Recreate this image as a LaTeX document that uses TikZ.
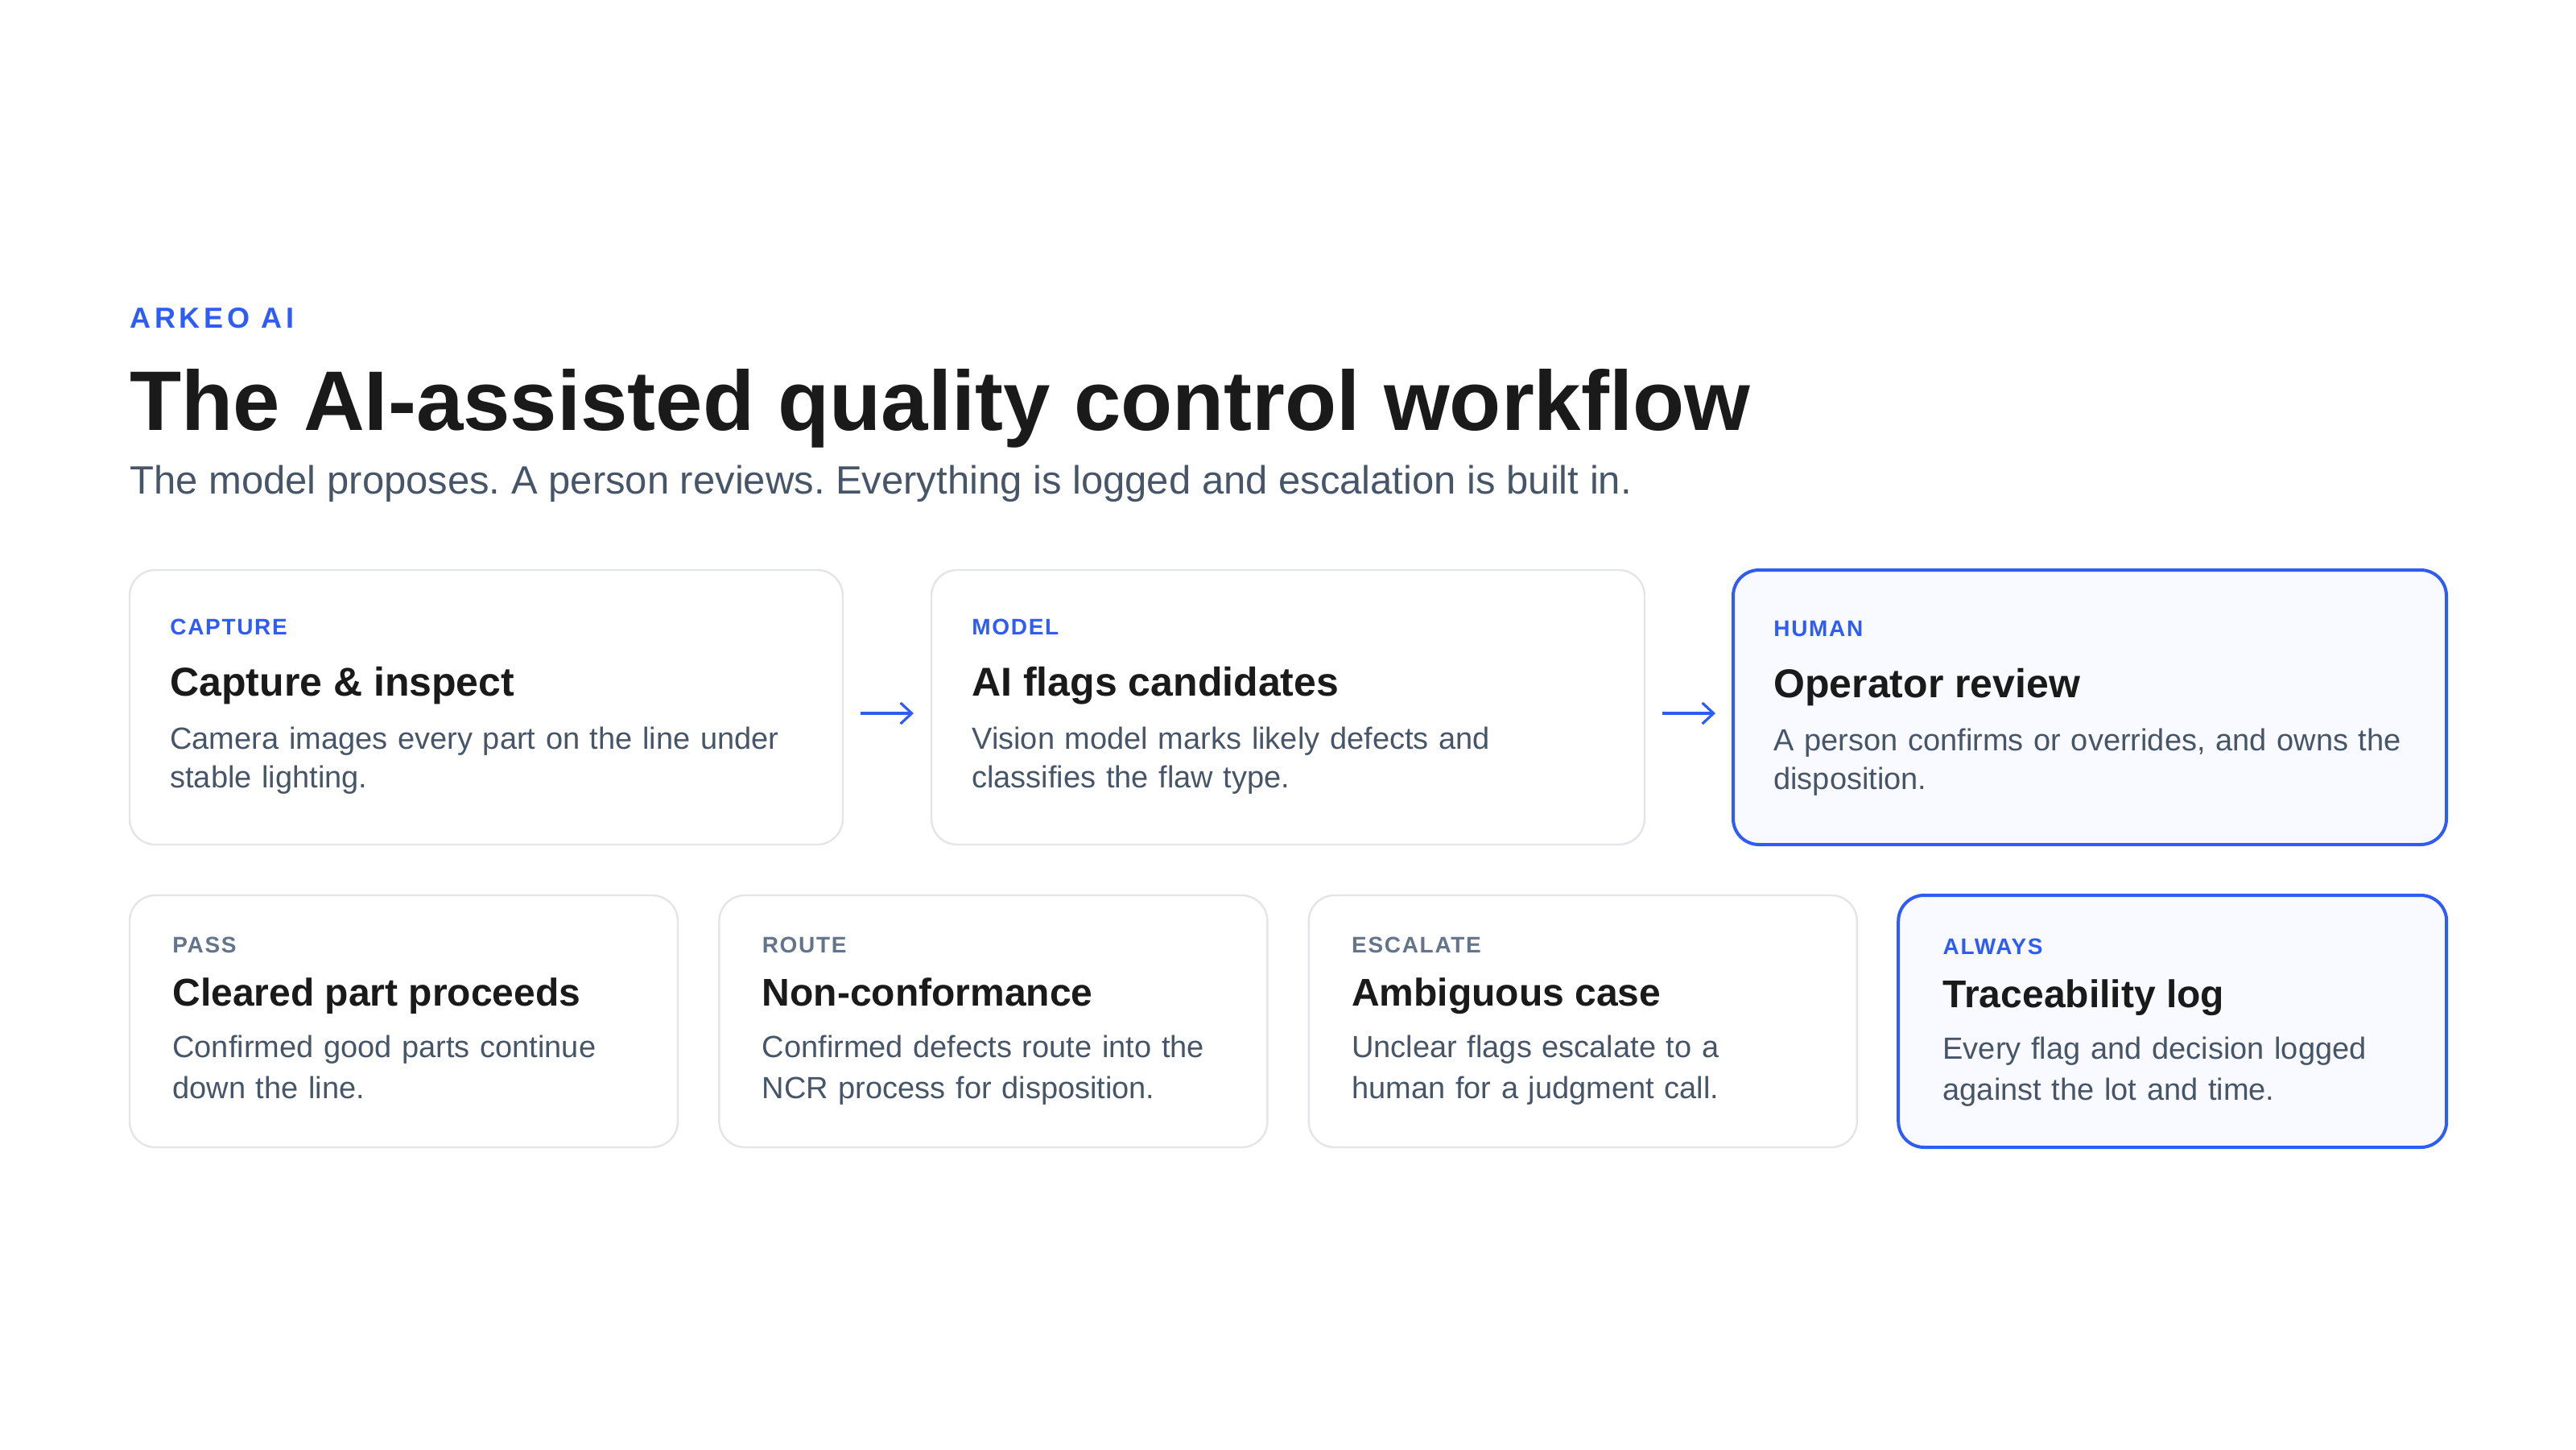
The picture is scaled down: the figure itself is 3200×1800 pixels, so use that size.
\documentclass[tikz,border=0pt]{standalone}
\usepackage{fontspec}
\setmainfont{Liberation Sans}
\usetikzlibrary{positioning,arrows.meta}
\frenchspacing

\definecolor{brandblue}{HTML}{2F5CF5}
\definecolor{inkdark}{HTML}{1A1A1A}
\definecolor{inkbody}{HTML}{475569}
\definecolor{inkmuted}{HTML}{64748B}
\definecolor{cardline}{HTML}{E3E5EA}
\definecolor{hotfill}{HTML}{F8FAFF}

\begin{document}
\begin{tikzpicture}[x=0.5pt,y=0.5pt,
    card/.style={draw=cardline,line width=1.2pt,rounded corners=16pt,fill=white,
        anchor=north west,inner sep=0pt,outer sep=0pt},
    hot card/.style={card,draw=brandblue,line width=2pt,fill=hotfill},
    wide card/.style={minimum width=443pt,minimum height=170.5pt},
    small card/.style={minimum width=340.5pt,minimum height=156.5pt},
    tag/.style={anchor=base west,inner sep=0pt,text=brandblue,
        font=\fontsize{14}{14}\selectfont\bfseries\addfontfeatures{LetterSpace=6}},
    muted tag/.style={tag,text=inkmuted},
    head/.style={anchor=base west,inner sep=0pt,text=inkdark,
        font=\fontsize{25}{30}\selectfont\bfseries},
    small head/.style={head,font=\fontsize{24}{30}\selectfont\bfseries},
    body/.style={anchor=base west,inner sep=0pt,text=inkbody,text width=420pt,align=left,
        font=\fontsize{19}{24}\selectfont},
    small body/.style={body,font=\fontsize{19}{25.5}\selectfont},
    flow/.style={draw=brandblue,line width=1.6pt,-{Straight Barb[length=7pt,width=13pt]},
        shorten <=11pt,shorten >=11pt}]

    \useasboundingbox (0,0) rectangle (3200,-1800);

    % Heading
    \node[anchor=base west,inner sep=0pt,text=brandblue,
        font=\fontsize{18}{18}\selectfont\bfseries\addfontfeatures{LetterSpace=13}] (brand) at (161,-407) {ARKEO AI};
    \node[anchor=base west,inner sep=0pt,text=inkdark,
        font=\fontsize{52.5}{60}\selectfont\bfseries] (title) at (161,-534) {The AI-assisted quality control workflow};
    \node[anchor=base west,inner sep=0pt,text=inkbody,
        font=\fontsize{24.5}{30}\selectfont] (sub) at (161,-613) {The model proposes. A person reviews. Everything is logged and escalation is built in.};

    % First row
    \node[card,wide card] (cap) at (161,-708) {};
    \node[card,wide card,right=55pt of cap] (mod) {};
    \node[hot card,wide card,right=55pt of mod] (hum) {};

    \node[tag] (capT) at ([shift={(50,-80)}]cap.north west) {CAPTURE};
    \node[head] (capH) at ([shift={(50,-156)}]cap.north west) {Capture \& inspect};
    \node[body] (capB) at ([shift={(50,-222)}]cap.north west) {Camera images every part on the line under\\stable lighting.};

    \node[tag] (modT) at ([shift={(50,-80)}]mod.north west) {MODEL};
    \node[head] (modH) at ([shift={(50,-156)}]mod.north west) {AI flags candidates};
    \node[body] (modB) at ([shift={(50,-222)}]mod.north west) {Vision model marks likely defects and\\classifies the flaw type.};

    \node[tag] (humT) at ([shift={(50,-82)}]hum.north west) {HUMAN};
    \node[head] (humH) at ([shift={(50,-158)}]hum.north west) {Operator review};
    \node[body] (humB) at ([shift={(50,-224)}]hum.north west) {A person confirms or overrides, and owns the\\disposition.};

    % Second row
    \node[card,small card,below=31.5pt of cap.south west,anchor=north west] (pass) {};
    \node[card,small card,right=25.7pt of pass] (route) {};
    \node[card,small card,right=25.7pt of route] (esc) {};
    \node[hot card,small card,right=25.7pt of esc] (log) {};

    \node[muted tag] (passT) at ([shift={(53,-71)}]pass.north west) {PASS};
    \node[small head] (passH) at ([shift={(53,-137)}]pass.north west) {Cleared part proceeds};
    \node[small body] (passB) at ([shift={(53,-201)}]pass.north west) {Confirmed good parts continue\\down the line.};

    \node[muted tag] (routeT) at ([shift={(53,-71)}]route.north west) {ROUTE};
    \node[small head] (routeH) at ([shift={(53,-137)}]route.north west) {Non-conformance};
    \node[small body] (routeB) at ([shift={(53,-201)}]route.north west) {Confirmed defects route into the\\NCR process for disposition.};

    \node[muted tag] (escT) at ([shift={(53,-71)}]esc.north west) {ESCALATE};
    \node[small head] (escH) at ([shift={(53,-137)}]esc.north west) {Ambiguous case};
    \node[small body] (escB) at ([shift={(53,-201)}]esc.north west) {Unclear flags escalate to a\\human for a judgment call.};

    \node[tag] (logT) at ([shift={(55,-73)}]log.north west) {ALWAYS};
    \node[small head] (logH) at ([shift={(55,-139)}]log.north west) {Traceability log};
    \node[small body] (logB) at ([shift={(55,-203)}]log.north west) {Every flag and decision logged\\against the lot and time.};

    % Arrows
    \draw[flow] ([yshift=-3.75pt]cap.east) -- ([yshift=-3.75pt]mod.west);
    \draw[flow] ([yshift=-3.75pt]mod.east) -- ([yshift=-3.75pt]hum.west);

\end{tikzpicture}
\end{document}
